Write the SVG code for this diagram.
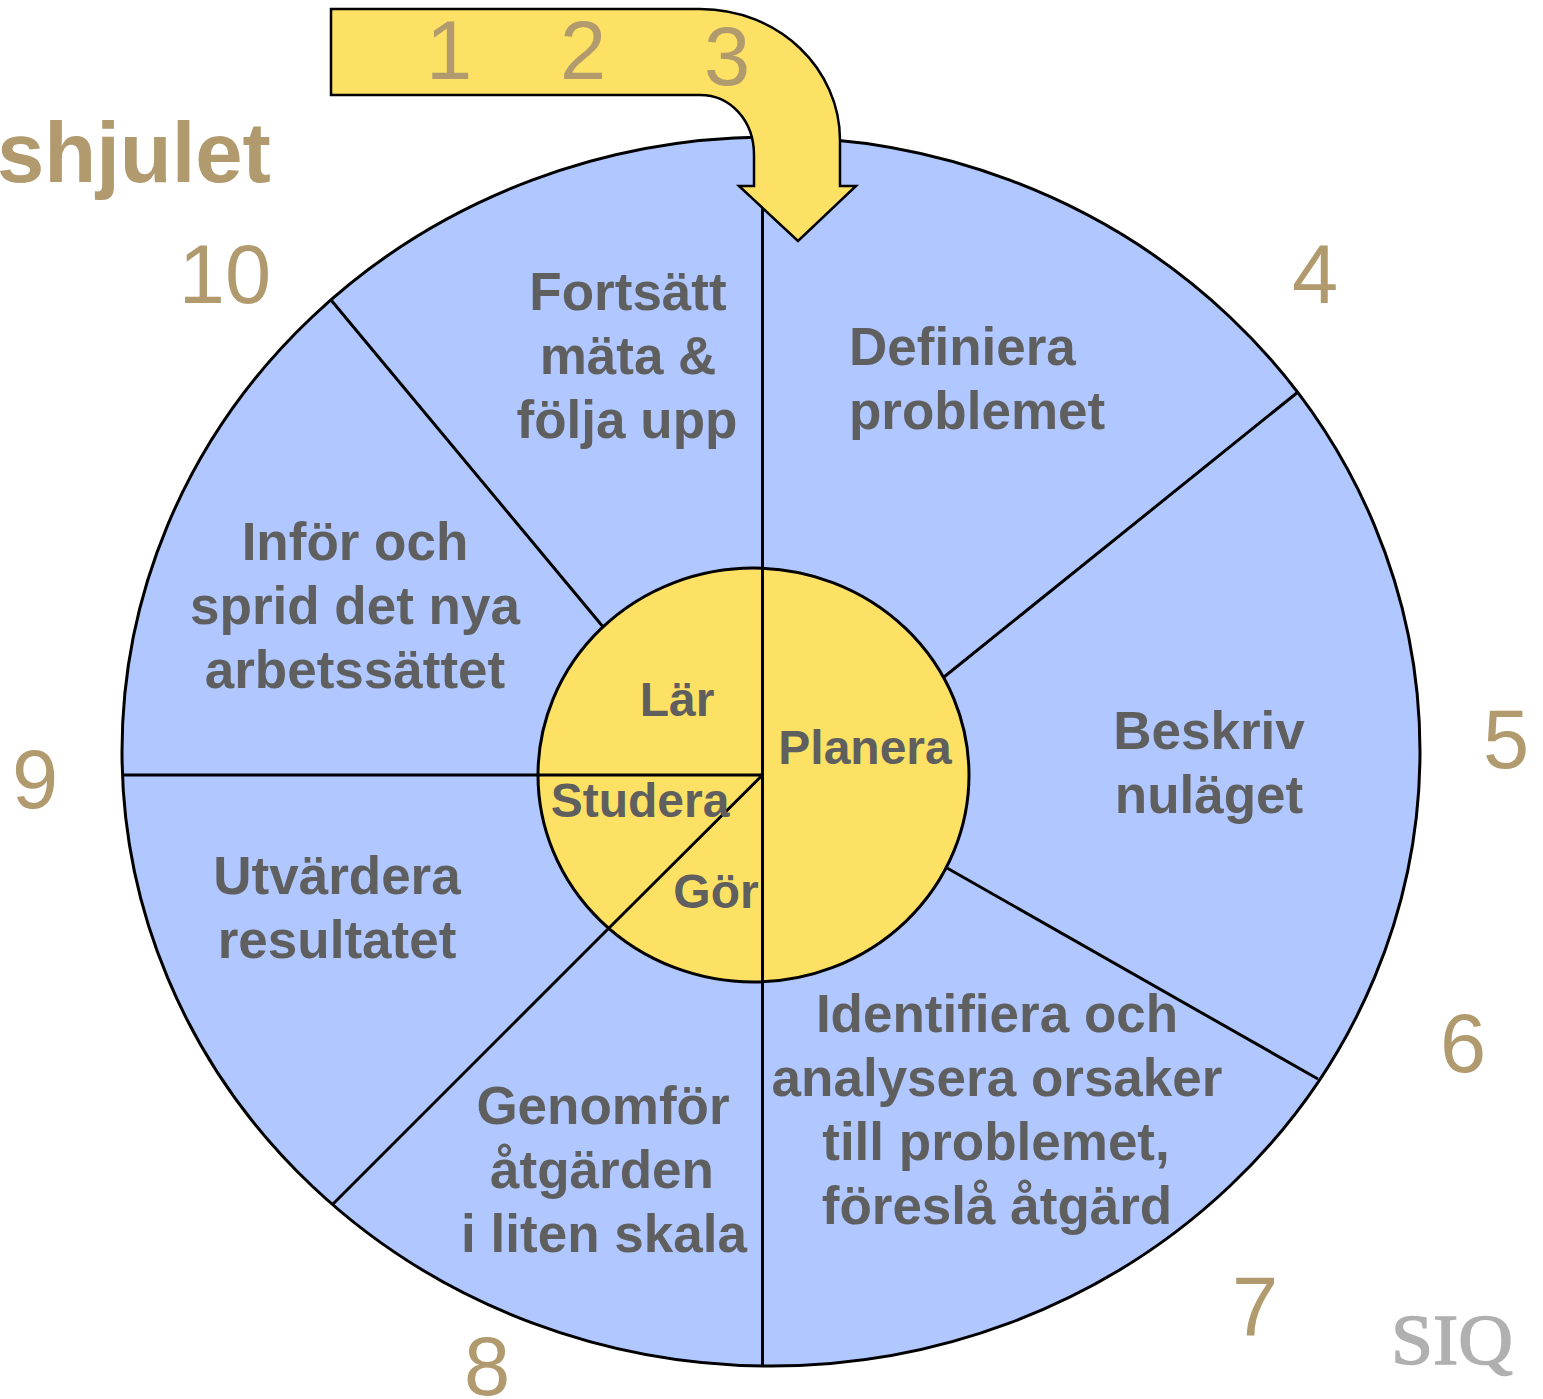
<svg xmlns="http://www.w3.org/2000/svg" width="1543" height="1399" viewBox="0 0 1543 1399">
<style>
.l{fill:#5f5f5f;font:bold 53px "Liberation Sans",Arial,sans-serif;text-anchor:middle}
.s{fill:#5f5f5f;font:bold 48px "Liberation Sans",Arial,sans-serif;text-anchor:middle}
.n{fill:#b09a6e;font:83px "Liberation Sans",Arial,sans-serif;text-anchor:middle}
.e{stroke:#000;stroke-width:3;fill:none}
</style>
<rect width="1543" height="1399" fill="#fff"/>
<g id="wheel"><ellipse cx="771" cy="751.5" rx="649" ry="614.5" fill="#b0c7ff" stroke="#000" stroke-width="3"/></g>
<g id="connectors">
<path class="e" d="M762.500 200V1366M122 775H762.500M331 300L604 628M1298 392L944 677M947 868L1318 1079M333 1204L609 928"/>
</g>
<g id="hub">
<ellipse cx="753.500" cy="775" rx="215.500" ry="207" fill="#fde164" stroke="#000" stroke-width="3"/>
<path class="e" d="M762.500 568V982M538 775H762.500M609 928L762.500 775"/>
<text class="s" x="677" y="716">Lär</text>
<text class="s" x="865" y="764">Planera</text>
<text class="s" x="640" y="817">Studera</text>
<text class="s" x="716" y="908">Gör</text>
</g>
<g id="arrow">
<path d="M331 9H700C780 9 840 70 840 140V186H856L798 241L739 186H754V155C754 120 730 95 700 95H331Z" fill="#fde164" stroke="#000" stroke-width="2.500"/>
</g>
<g id="seg-fortsatt"><text class="l" x="628" y="310">Fortsätt</text><text class="l" x="628" y="374">mäta &amp;</text><text class="l" x="627" y="438">följa upp</text></g>
<g id="seg-definiera"><text class="l" x="849" y="365" style="text-anchor:start">Definiera</text><text class="l" x="849" y="429" style="text-anchor:start">problemet</text></g>
<g id="seg-beskriv"><text class="l" x="1209" y="749">Beskriv</text><text class="l" x="1209" y="813">nuläget</text></g>
<g id="seg-identifiera"><text class="l" x="997" y="1032">Identifiera och</text><text class="l" x="997" y="1096">analysera orsaker</text><text class="l" x="996" y="1160">till problemet,</text><text class="l" x="997" y="1224">föreslå åtgärd</text></g>
<g id="seg-genomfor"><text class="l" x="603" y="1124">Genomför</text><text class="l" x="602" y="1188">åtgärden</text><text class="l" x="604" y="1252">i liten skala</text></g>
<g id="seg-utvardera"><text class="l" x="337" y="894">Utvärdera</text><text class="l" x="337" y="958">resultatet</text></g>
<g id="seg-infor"><text class="l" x="355" y="560">Inför och</text><text class="l" x="355" y="624">sprid det nya</text><text class="l" x="355" y="688">arbetssättet</text></g>
<g id="numbers">
<text class="n" x="449" y="79">1</text><text class="n" x="583" y="79">2</text><text class="n" x="727" y="85">3</text>
<text class="n" x="1315" y="303">4</text><text class="n" x="1506" y="768">5</text><text class="n" x="1463" y="1072">6</text><text class="n" x="1255" y="1335">7</text><text class="n" x="487" y="1395">8</text><text class="n" x="35" y="808">9</text><text class="n" x="225" y="303">10</text>
</g>
<text x="-3" y="182" fill="#b09a6e" style="font:bold 85px 'Liberation Sans',Arial,sans-serif">shjulet</text>
<text id="logo" x="1391" y="1364" fill="#b0b0b0" stroke="#b0b0b0" stroke-width="1.500" style="font:72px 'Liberation Serif','Times New Roman',serif" textLength="122" lengthAdjust="spacingAndGlyphs">SIQ</text>
</svg>
